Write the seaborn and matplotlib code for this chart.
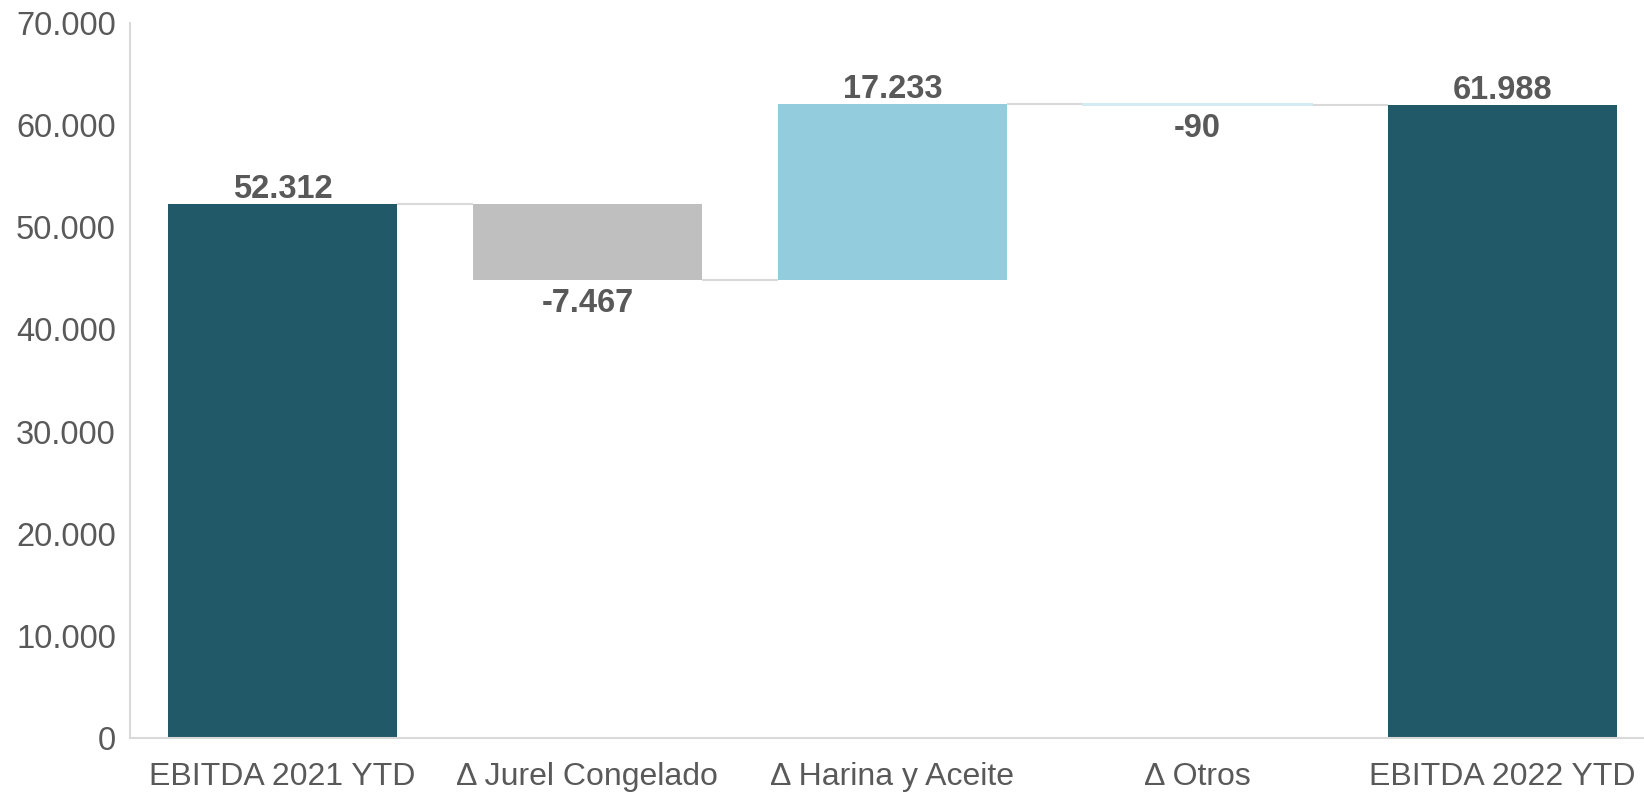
import numpy as np
import pandas as pd
import matplotlib
matplotlib.use("Agg")
import matplotlib.pyplot as plt
import matplotlib.ticker as mticker
import seaborn as sns

# waterfall data
categories = ["EBITDA 2021 YTD", "\u0394 Jurel Congelado", "\u0394 Harina y Aceite",
              "\u0394 Otros", "EBITDA 2022 YTD"]
values = [52312, -7467, 17233, -90, 61988]
is_total = [True, False, False, False, True]
bar_colors = ["#215968", "#BFBFBF", "#93CDDD", "#D4EBF2", "#215968"]
labels = ["52.312", "-7.467", "17.233", "-90", "61.988"]

# running levels for the floating bars
bottoms = []
level = 0
for v, tot in zip(values, is_total):
    if tot:
        bottoms.append(0)
        level = v
    else:
        bottoms.append(level)
        level += v
ends = [b + v for b, v in zip(bottoms, values)]

sns.set_theme(style="white")
plt.rcParams["font.family"] = ["Liberation Sans", "DejaVu Sans"]

fig = plt.figure(figsize=(16.44, 7.94), dpi=100)
ax = fig.add_axes([0.079, 0.0705, 0.921, 0.9005])

w = 0.75
for cat, v, b, c in zip(categories, values, bottoms, bar_colors):
    # tiny bars get an outline so they stay visible
    lw = 1.5 if abs(v) < 1000 else 0
    sns.barplot(x=[cat], y=[v], order=categories, bottom=b, color=c, width=w,
                saturation=1, errorbar=None, ax=ax, zorder=2,
                linewidth=lw, edgecolor=c)

# connector lines between bars
for i in range(len(values) - 1):
    ax.hlines(ends[i], i + w / 2, i + 1 - w / 2, color="#D9D9D9", lw=1.5, zorder=1)

# value labels
for i, (v, e) in enumerate(zip(values, ends)):
    if v >= 0:
        ax.annotate(labels[i], (i, e), xytext=(0, -1), textcoords="offset points",
                    ha="center", va="bottom", fontsize=23.5, fontweight="bold", color="#595959")
    else:
        ax.annotate(labels[i], (i, e), xytext=(0, -6), textcoords="offset points",
                    ha="center", va="top", fontsize=23.5, fontweight="bold", color="#595959")

ax.set_ylim(0, 70000)
ax.set_xlim(-0.5, 4.464)
ax.yaxis.set_major_locator(mticker.MultipleLocator(10000))
ax.yaxis.set_major_formatter(mticker.FuncFormatter(lambda x, p: f"{int(x):,}".replace(",", ".")))
ax.set_xlabel("")
ax.set_ylabel("")
ax.tick_params(axis="y", length=0, labelsize=23.5, colors="#595959", pad=10)
ax.tick_params(axis="x", length=0, labelsize=23, colors="#595959", pad=17.5)
for s in ["top", "right"]:
    ax.spines[s].set_visible(False)
ax.spines["left"].set_color("#D9D9D9")
ax.spines["bottom"].set_color("#D9D9D9")
ax.spines["left"].set_linewidth(1.5)
ax.spines["bottom"].set_linewidth(1.5)

plt.savefig("out.png", dpi=100)
